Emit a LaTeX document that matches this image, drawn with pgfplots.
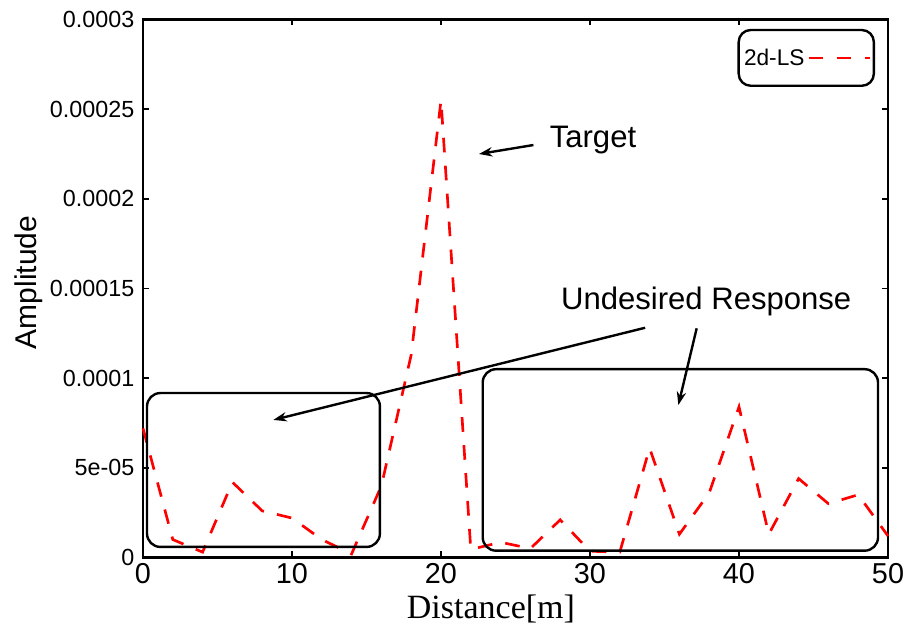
\documentclass[border=0pt]{standalone}
\usepackage{fontspec}
\setmainfont{Liberation Sans}
\newfontfamily\seriffont{Liberation Serif}
\usepackage{pgfplots}
\pgfplotsset{compat=1.18}
\usetikzlibrary{arrows.meta}
\begin{document}
\begin{tikzpicture}
\begin{axis}[
  at={(0,0)}, anchor=south west,
  scale only axis, width=558.75pt, height=403.5pt,
  xmin=0, xmax=50, ymin=0, ymax=0.0003,
  clip=false,
  xtick={0,10,20,30,40,50}, xticklabels={0,10,20,30,40,50},
  ytick={0,0.00005,0.0001,0.00015,0.0002,0.00025,0.0003},
  yticklabels={0,5e-05,0.0001,0.00015,0.0002,0.00025,0.0003},
  scaled y ticks=false,
  tick align=inside, major tick length=4.5pt,
  axis line style={line width=1.8pt},
  every tick/.style={line width=1.2pt, black},
  xticklabel style={font=\fontsize{21.6}{24}\selectfont, yshift=-1pt},
  yticklabel style={font=\fontsize{17.5}{20}\selectfont, xshift=-3pt},
  xlabel={Distance[m]},
  xlabel style={font=\seriffont\fontsize{25.5}{29}\selectfont, at={(axis description cs:0.467,-0.095)}, anchor=center},
  ylabel={Amplitude},
  ylabel style={font=\fontsize{22.5}{26}\selectfont, at={(axis description cs:-0.154,0.511)}, anchor=center},
  legend plot pos=right,
  legend cell align=right,
  legend image code/.code={\draw[#1, line width=2pt] (0pt,0pt) -- (31.5pt,0pt); \path (0pt,0pt) -- (46pt,0pt);},
  legend style={at={(rel axis cs:0.9826,0.9827)}, anchor=north east, draw=black, line width=1.8pt, rounded corners=9pt, font=\fontsize{17}{20}\selectfont, inner xsep=2pt, inner ysep=12pt},
]
\addplot[red, line width=2pt, dash pattern=on 11pt off 10pt] coordinates {
(0,7.2e-5) (2,1.0e-5) (4,3e-6) (6,4.2e-5) (8,2.6e-5) (10,2.2e-5) (12,1.0e-5) (14,2e-6)
(16,4.0e-5) (18,1.13e-4) (20,2.55e-4) (22,4.5e-6) (24,8.5e-6) (26,5e-6) (28,2.1e-5)
(30,3.5e-6) (32,3e-6) (34,6.1e-5) (36,1.3e-5) (38,3.6e-5) (40,8.4e-5) (42,1.3e-5)
(44,4.4e-5) (46,3.0e-5) (48,3.5e-5) (50,1.2e-5)
};
\addlegendentry{2d-LS}
\draw[line width=1.8pt, rounded corners=10pt] (axis cs:0.27,5.9e-6) rectangle (axis cs:15.9,9.17e-5);
\draw[line width=1.8pt, rounded corners=10pt] (axis cs:22.8,3.8e-6) rectangle (axis cs:49.33,1.05e-4);
\node[font=\fontsize{23.3}{27}\selectfont] at (axis cs:30.2,2.328e-4) {Target};
\node[font=\fontsize{23.3}{27}\selectfont] at (axis cs:37.8,1.426e-4) {Undesired Response};
\draw[line width=1.8pt, -{Stealth[length=10pt,width=7pt]}] (axis cs:26.2,2.30e-4) -- (axis cs:22.55,2.25e-4);
\draw[line width=1.8pt, -{Stealth[length=10pt,width=7pt]}] (axis cs:33.7,1.281e-4) -- (axis cs:8.75,7.67e-5);
\draw[line width=1.8pt, -{Stealth[length=10pt,width=7pt]}] (axis cs:37.16,1.278e-4) -- (axis cs:35.93,8.5e-5);
\end{axis}
\pgfresetboundingbox
\path (-107.25pt,-55.125pt) rectangle (577.5pt,418.125pt);
\end{tikzpicture}
\end{document}
